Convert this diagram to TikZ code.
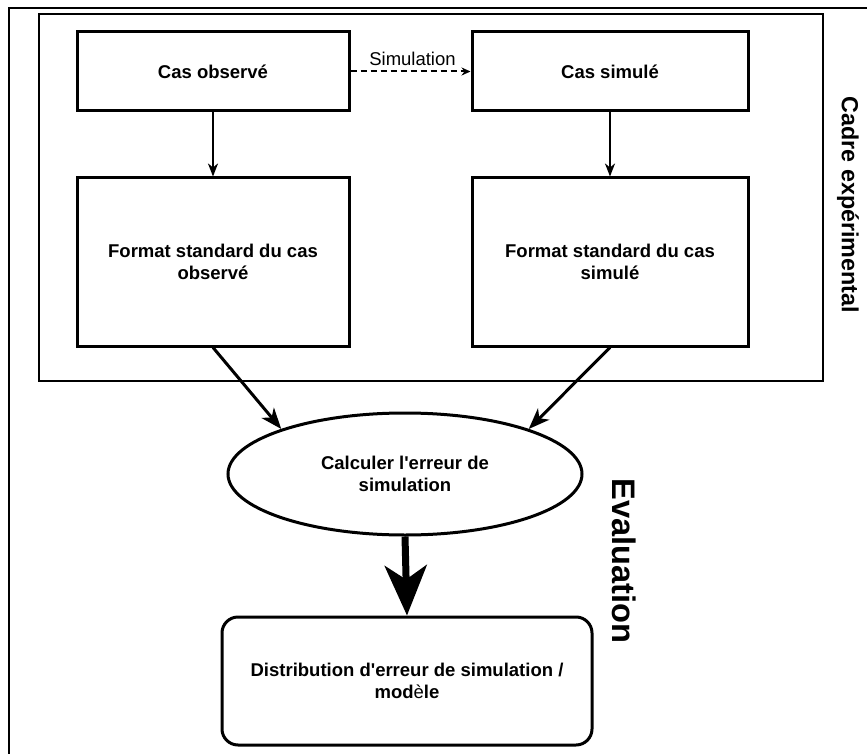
\documentclass[tikz,border=0pt]{standalone}
\usepackage{fontspec}
\setmainfont{Liberation Sans}
\newfontfamily\qfont{Liberation Sans}[Ligatures=ResetAll]
\usetikzlibrary{arrows.meta,shapes.geometric}
\newcommand{\sq}{{\qfont\bfseries '}}
\begin{document}
\begin{tikzpicture}[x=1pt,y=-1pt,
  boxtxt/.style={font=\fontsize{18.5}{22.5}\selectfont\bfseries, align=center},
  stepbox/.style={boxtxt, draw, line width=3pt, rectangle, inner sep=0pt},
  ellbox/.style={boxtxt, draw, line width=3pt, ellipse, inner sep=0pt},
  roundbox/.style={boxtxt, draw, line width=3pt, rectangle, rounded corners=16pt, inner sep=0pt},
  thinarrow/.style={line width=2pt, -{Stealth[length=13pt,width=10pt,inset=4pt]}},
  diagarrow/.style={line width=3pt, -{Stealth[length=21pt,width=16pt,inset=6pt]}},
  thickarrow/.style={line width=7pt, -{Stealth[length=50pt,width=42pt,inset=14pt]}},
  dasharrow/.style={line width=2pt, dash pattern=on 6pt off 4pt, -{Stealth[length=9pt,width=8pt,inset=3pt]}},
  frame/.style={line width=1.6pt},
  sidelabel/.style={font=\bfseries, rotate=-90}
]
\useasboundingbox (0,0) rectangle (867,754);
\fill[white] (0,0) rectangle (867,754);
% outer frame
\draw[frame] (9,754) -- (9,8) -- (867,8);
% inner frame
\draw[frame] (39,14) rectangle (823,381);

\node[stepbox, minimum width=272pt, minimum height=79pt] (obs) at (213,71.5) {Cas observé};
\node[stepbox, minimum width=276pt, minimum height=79pt] (sim) at (610,71.5) {Cas simulé};
\node[stepbox, minimum width=272pt, minimum height=168pt] (fobs) at (213,262) {Format standard du cas\\observé};
\node[stepbox, minimum width=276pt, minimum height=168pt] (fsim) at (610,262) {Format standard du cas\\simulé};
\node[ellbox, minimum width=354pt, minimum height=122pt] (ell) at (405,474) {Calculer l\sq erreur de\\simulation};
\node[roundbox, minimum width=370pt, minimum height=128pt] (dist) at (407,681) {Distribution d\sq erreur de simulation /\\mod{\mdseries è}le};

\draw[dasharrow] (obs) -- node[above=1pt, font=\fontsize{18.5}{22}\selectfont, xshift=2pt] (simlbl) {Simulation} (sim);
\draw[thinarrow] (obs) -- (fobs);
\draw[thinarrow] (sim) -- (fsim);
\draw[diagarrow] (fobs.south) -- (ell.160);
\draw[diagarrow] (fsim.south) -- (ell.20);
\draw[thickarrow] (ell.south) -- (dist.north);

\node[sidelabel, font=\fontsize{23.3}{26}\selectfont\bfseries] (cadre) at (848,205) {Cadre expérimental};
\node[sidelabel, font=\fontsize{32.6}{36}\selectfont\bfseries] (eval) at (624,561) {Evaluation};
\end{tikzpicture}
\end{document}
